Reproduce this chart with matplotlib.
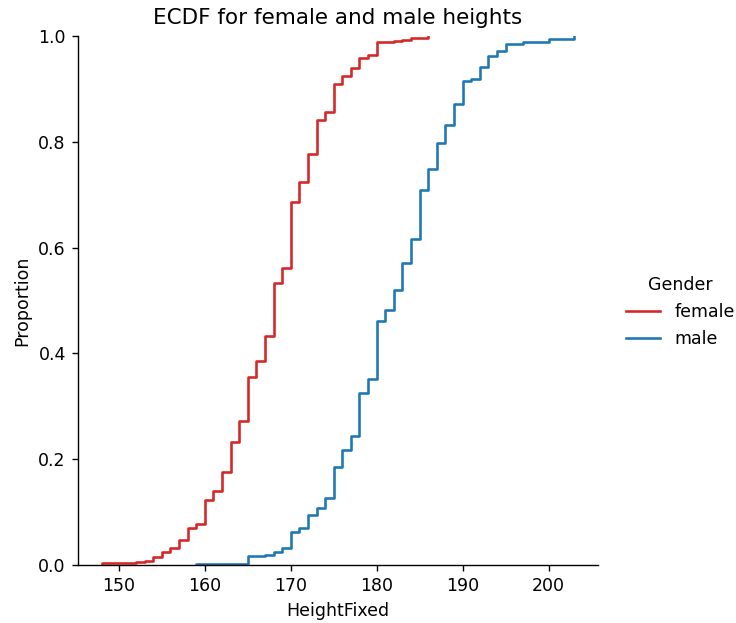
import numpy as np
import matplotlib.pyplot as plt

# ECDF steps: height value and cumulative proportion
female_height = [148, 152, 153, 154, 155, 156, 157, 158, 159, 160, 161, 162, 163, 164,
                 165, 166, 167, 168, 169, 170, 171, 172, 173, 174, 175, 176, 177, 178,
                 179, 180, 182, 183, 184, 186]
female_prop = [0.003, 0.005, 0.007, 0.016, 0.024, 0.033, 0.047, 0.069, 0.078, 0.123,
               0.140, 0.176, 0.233, 0.273, 0.355, 0.386, 0.433, 0.534, 0.561, 0.686,
               0.724, 0.776, 0.842, 0.856, 0.909, 0.925, 0.939, 0.958, 0.964, 0.988,
               0.991, 0.993, 0.997, 1.0]

male_height = [159, 165, 167, 168, 169, 170, 171, 172, 173, 174, 175, 176, 177, 178,
               179, 180, 181, 182, 183, 184, 185, 186, 187, 188, 189, 190, 191, 192,
               193, 194, 195, 197, 200, 203]
male_prop = [0.002, 0.017, 0.019, 0.024, 0.033, 0.062, 0.070, 0.095, 0.107, 0.127,
             0.186, 0.217, 0.244, 0.326, 0.352, 0.461, 0.482, 0.519, 0.571, 0.616,
             0.709, 0.748, 0.797, 0.832, 0.871, 0.914, 0.919, 0.942, 0.963, 0.972,
             0.985, 0.989, 0.994, 1.0]

W, H = 736, 623
fig = plt.figure(figsize=(W / 125, H / 125), dpi=125)
ax = fig.add_axes([78 / W, 58 / H, 520 / W, 529 / H])

series = [('female', female_height, female_prop, 'tab:red'),
          ('male', male_height, male_prop, 'tab:blue')]

for name, h, p, c in series:
    # start from zero at the first value, then step up (steps-post like seaborn)
    x = np.r_[h[0], h]
    y = np.r_[0, p]
    ax.step(x, y, where='post', color=c, lw=1.5, label=name)

ax.set_ylim(0, 1)
ax.margins(x=0.05)
ax.set_xlabel('HeightFixed')
ax.set_ylabel('Proportion')
ax.set_title('ECDF for female and male heights', fontsize=12.4, pad=7)
ax.spines['top'].set_visible(False)
ax.spines['right'].set_visible(False)

fig.legend(title='Gender', loc='center left', bbox_to_anchor=(610 / W, 1 - 312 / H),
           frameon=False)

fig.savefig('out.png', dpi=125)
